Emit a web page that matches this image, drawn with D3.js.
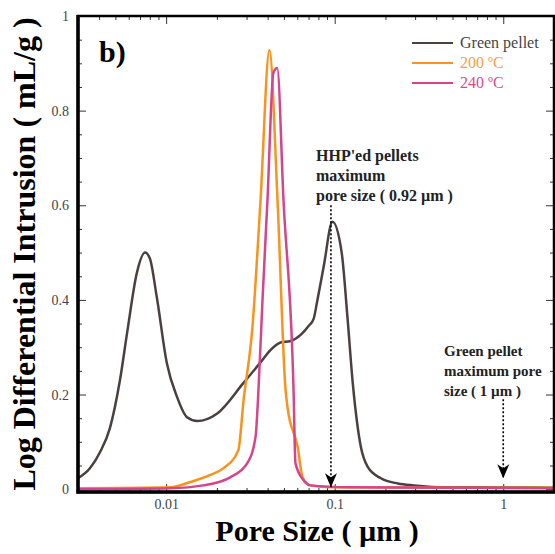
<!DOCTYPE html>
<html>
<head>
<meta charset="utf-8">
<script src="https://d3js.org/d3.v7.min.js"></script>
<style>
  body { margin: 0; background: #fff; }
  text { font-family: "Liberation Serif", "Times New Roman", serif; }
</style>
</head>
<body>
<script>

// SVG Size
var width = 555,
    height = 554;

// Pore size (um) and log differential intrusion (mL/g)
var greenSize = [0.003, 0.00353, 0.00405, 0.00464, 0.00532, 0.0059, 0.0067, 0.0075, 0.0080, 0.0088,
                 0.0101, 0.0116, 0.0133, 0.0153, 0.0201, 0.0287, 0.0363, 0.0416, 0.0477, 0.0547,
                 0.0628, 0.070, 0.075, 0.079, 0.086, 0.097, 0.110, 0.119, 0.128, 0.143,
                 0.157, 0.188, 0.237, 0.295, 0.47, 0.74, 2.0];
var greenVal  = [0.023, 0.044, 0.078, 0.129, 0.23, 0.336, 0.457, 0.50, 0.488, 0.406,
                 0.266, 0.195, 0.152, 0.144, 0.16, 0.224, 0.268, 0.294, 0.31, 0.313,
                 0.326, 0.345, 0.36, 0.40, 0.47, 0.565, 0.50, 0.364, 0.224, 0.089,
                 0.047, 0.023, 0.012, 0.008, 0.004, 0.004, 0.003];

var orangeSize = [0.003, 0.0106, 0.0139, 0.0183, 0.0218, 0.0268, 0.0288, 0.0325, 0.0363, 0.0410,
                  0.0458, 0.0511, 0.0525, 0.0603, 0.0645, 0.0719, 0.0947, 2.0];
var orangeVal  = [0.002, 0.004, 0.015, 0.030, 0.044, 0.082, 0.188, 0.342, 0.61, 0.928,
                  0.61, 0.21, 0.173, 0.089, 0.025, 0.008, 0.004, 0.003];

var magentaSize = [0.003, 0.0106, 0.0166, 0.0240, 0.0303, 0.0339, 0.0353, 0.0373, 0.0399, 0.0433,
                   0.0456, 0.0497, 0.057, 0.0585, 0.0653, 0.0719, 0.12, 2.0];
var magentaVal  = [0.0, 0.002, 0.008, 0.025, 0.055, 0.11, 0.21, 0.40, 0.61, 0.88,
                   0.89, 0.61, 0.21, 0.055, 0.019, 0.008, 0.004, 0.002];

var seriesNames = ["Green pellet", "200 ºC", "240 ºC"];
var seriesColors = ["#4b4040", "#f7931e", "#d6448b"];
var legendTextColors = ["#444444", "#f5a046", "#d24d8c"];

// Tick values
var xMajor = [0.01, 0.1, 1];
var xMinor = [0.004, 0.005, 0.006, 0.007, 0.008, 0.009,
              0.02, 0.03, 0.04, 0.05, 0.06, 0.07, 0.08, 0.09,
              0.2, 0.3, 0.4, 0.5, 0.6, 0.7, 0.8, 0.9];
var yMajor = [0, 0.2, 0.4, 0.6, 0.8, 1];
var yMinor = [0.05, 0.1, 0.15, 0.25, 0.3, 0.35, 0.45, 0.5, 0.55, 0.65, 0.7, 0.75, 0.85, 0.9, 0.95];

// Annotations: [pore size, top value, tip value]
var arrowHHP = [0.095, 0.60, 0.004];
var arrowGreen = [1, 0.19, 0.023];
var noteHHP = ["HHP'ed pellets", "maximum", "pore size ( 0.92 µm )"];
var noteGreen = ["Green pellet", "maximum pore", "size ( 1 µm )"];

// Plot area edges
var plotLeft = 78, plotRight = 554, plotTop = 16, plotBottom = 492;

var svg = d3.select("body").append("svg")
  .attr("width", width)
  .attr("height", height);

// Scales
var x = d3.scaleLog().domain([0.003, 2]).range([plotLeft, plotRight]);
var y = d3.scaleLinear().domain([-0.006, 1]).range([plotBottom, plotTop]);

var line = d3.line()
  .x(function(d){ return x(d[0]); })
  .y(function(d){ return y(d[1]); })
  .curve(d3.curveMonotoneX);

var series = [
  d3.zip(greenSize, greenVal),
  d3.zip(orangeSize, orangeVal),
  d3.zip(magentaSize, magentaVal)
];

// Axes (ticks point inward)
function styleAxis(g) {
  g.select(".domain").remove();
  g.selectAll("line").attr("stroke", "#333").attr("stroke-width", 1);
  g.selectAll("text")
   .attr("font-family", "'Liberation Serif', 'Times New Roman', serif")
   .attr("font-size", 14)
   .attr("fill", "#444");
}

svg.append("g")
   .attr("transform", "translate(0," + plotBottom + ")")
   .call(d3.axisBottom(x).tickValues(xMajor).tickSize(-8).tickPadding(7)
         .tickFormat(function(d){ return String(d); }))
   .call(styleAxis);
svg.append("g")
   .attr("transform", "translate(0," + plotBottom + ")")
   .call(d3.axisBottom(x).tickValues(xMinor).tickSize(-4).tickFormat(""))
   .call(styleAxis);
svg.append("g")
   .attr("transform", "translate(0," + plotTop + ")")
   .call(d3.axisTop(x).tickValues(xMajor).tickSize(-8).tickFormat(""))
   .call(styleAxis);
svg.append("g")
   .attr("transform", "translate(0," + plotTop + ")")
   .call(d3.axisTop(x).tickValues(xMinor).tickSize(-4).tickFormat(""))
   .call(styleAxis);

svg.append("g")
   .attr("transform", "translate(" + plotLeft + ",0)")
   .call(d3.axisLeft(y).tickValues(yMajor).tickSize(-8).tickPadding(9)
         .tickFormat(function(d){ return String(d); }))
   .call(styleAxis);
svg.append("g")
   .attr("transform", "translate(" + plotLeft + ",0)")
   .call(d3.axisLeft(y).tickValues(yMinor).tickSize(-4).tickFormat(""))
   .call(styleAxis);
svg.append("g")
   .attr("transform", "translate(" + plotRight + ",0)")
   .call(d3.axisRight(y).tickValues(yMajor).tickSize(-8).tickFormat(""))
   .call(styleAxis);
svg.append("g")
   .attr("transform", "translate(" + plotRight + ",0)")
   .call(d3.axisRight(y).tickValues(yMinor).tickSize(-4).tickFormat(""))
   .call(styleAxis);

// Curves
svg.append("g").selectAll("path")
   .data(series)
   .enter()
   .append("path")
   .attr("d", line)
   .attr("fill", "none")
   .attr("stroke", function(d, i){ return seriesColors[i]; })
   .attr("stroke-width", 2.5)
   .attr("stroke-linejoin", "round");

// Frame
svg.append("rect")
   .attr("x", plotLeft).attr("y", plotTop)
   .attr("width", plotRight - plotLeft).attr("height", plotBottom - plotTop)
   .attr("fill", "none").attr("stroke", "#000").attr("stroke-width", 2.5);
svg.append("line")
   .attr("x1", plotLeft).attr("x2", plotLeft).attr("y1", plotTop - 1).attr("y2", plotBottom + 1.5)
   .attr("stroke", "#000").attr("stroke-width", 3.5);
svg.append("line")
   .attr("x1", plotLeft - 1.5).attr("x2", plotRight + 1).attr("y1", plotBottom).attr("y2", plotBottom)
   .attr("stroke", "#000").attr("stroke-width", 3.5);

// Legend
var legend = svg.append("g").selectAll("g")
   .data(seriesNames)
   .enter()
   .append("g")
   .attr("transform", function(d, i){ return "translate(412," + (43 + i * 20) + ")"; });
legend.append("line")
   .attr("x1", 0).attr("x2", 41)
   .attr("stroke", function(d, i){ return seriesColors[i]; })
   .attr("stroke-width", 2);
legend.append("text")
   .attr("x", 48).attr("dy", "0.33em")
   .attr("font-size", 16)
   .attr("fill", function(d, i){ return legendTextColors[i]; })
   .text(function(d){ return d; });

// Panel label
svg.append("text")
   .attr("x", 99).attr("y", 62)
   .attr("font-size", 30).attr("font-weight", "bold")
   .text("b)");

// Axis titles
svg.append("text")
   .attr("x", (plotLeft + plotRight) / 2 + 1).attr("y", 541)
   .attr("text-anchor", "middle")
   .attr("font-size", 30).attr("font-weight", "bold")
   .text("Pore Size ( µm )");
svg.append("text")
   .attr("transform", "translate(35," + ((plotTop + plotBottom) / 2) + ") rotate(-90)")
   .attr("text-anchor", "middle")
   .attr("font-size", 32).attr("font-weight", "bold")
   .text("Log Differential Intrusion ( mL/g )");

// Arrows
var defs = svg.append("defs");
defs.append("marker")
   .attr("id", "arrowhead")
   .attr("markerUnits", "userSpaceOnUse")
   .attr("markerWidth", 14).attr("markerHeight", 14)
   .attr("viewBox", "0 0 14 14")
   .attr("refX", 14).attr("refY", 7)
   .attr("orient", "auto")
   .append("path")
   .attr("d", "M0,1 L14,7 L0,13 L4,7 Z")
   .attr("fill", "#000");

[arrowHHP, arrowGreen].forEach(function(a){
  svg.append("line")
     .attr("x1", x(a[0])).attr("x2", x(a[0]))
     .attr("y1", y(a[1])).attr("y2", y(a[2]))
     .attr("stroke", "#000").attr("stroke-width", 1.6)
     .attr("stroke-dasharray", "2,2")
     .attr("marker-end", "url(#arrowhead)");
});

function note(lines, px, py, size) {
  svg.append("g").selectAll("text")
     .data(lines)
     .enter()
     .append("text")
     .attr("x", px)
     .attr("y", function(d, i){ return py + i * 20; })
     .attr("font-size", size).attr("font-weight", "bold")
     .attr("fill", "#222")
     .text(function(d){ return d; });
}
note(noteHHP, 316, 161, 16);
note(noteGreen, 444, 356, 15);

</script>
</body>
</html>
